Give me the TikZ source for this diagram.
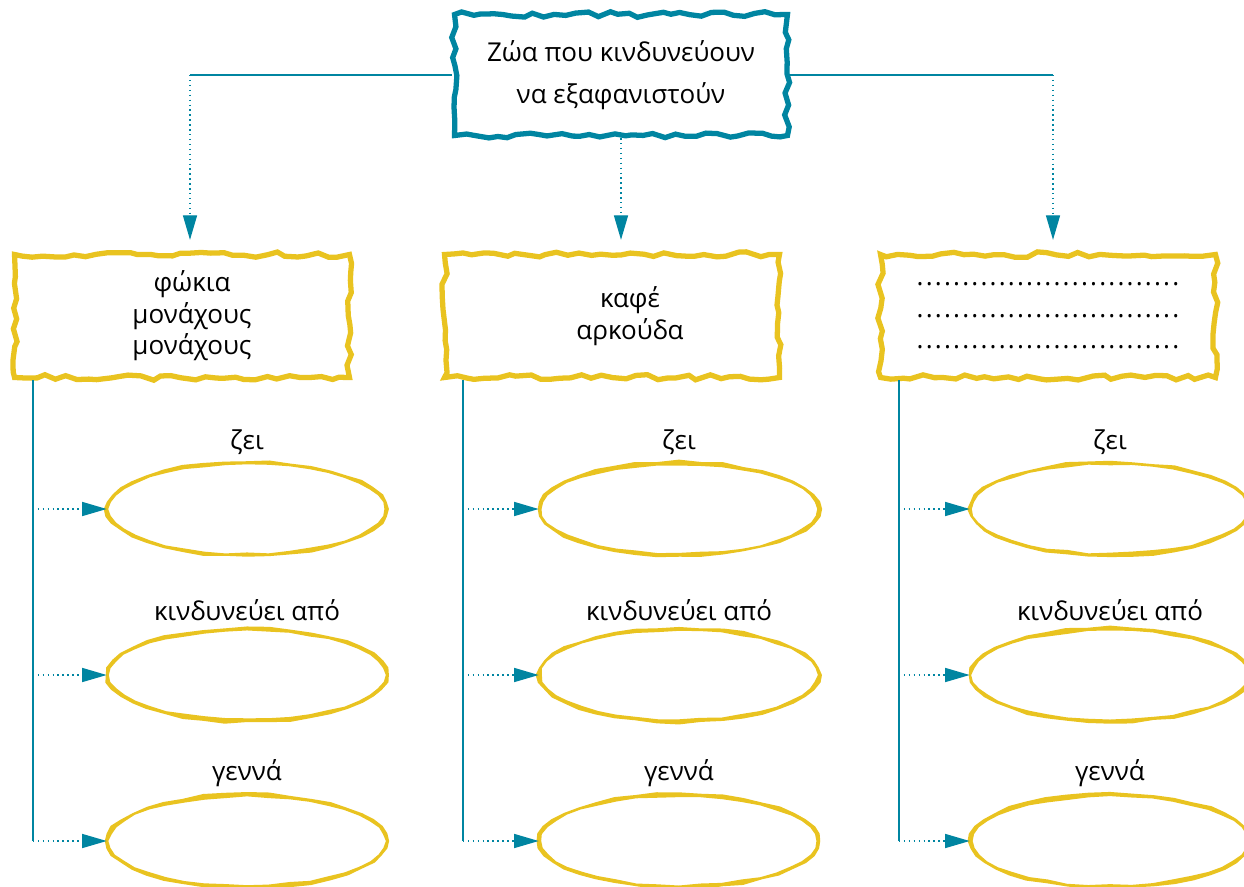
\documentclass[tikz,border=0pt]{standalone}
\usepackage{fontspec}
\setmainfont{Open Sans}
\usepackage{tikz}
\usetikzlibrary{shapes.geometric,decorations.pathmorphing,arrows.meta,positioning}
\definecolor{petrol}{RGB}{0,133,161}
\definecolor{mustard}{RGB}{233,195,32}
\newcommand{\dotrow}{\makebox[5.3cm]{\xleaders\hbox to 0.18cm{\hss.\hss}\hfill}}
\tikzset{
  ragged/.style={decorate, decoration={random steps, segment length=6pt, amplitude=1.6pt}},
  topbox/.style={draw=petrol, line width=3pt, ragged, minimum width=6.66cm, minimum height=2.42cm,
    align=center, font=\fontsize{14.8}{24}\selectfont},
  animalbox/.style={draw=mustard, line width=3pt, ragged, minimum width=6.7cm, minimum height=2.46cm,
    align=center, font=\fontsize{14.8}{18}\selectfont},
  oval/.style={ellipse, minimum width=5.6cm, minimum height=1.84cm},
  tag/.style={font=\fontsize{14.8}{18}\selectfont, inner sep=1pt},
  link/.style={petrol, line width=0.8pt},
  dots/.style={petrol, dotted, line width=0.8pt, -{Triangle[length=14pt,width=8pt]}},
}
\begin{document}
\begin{tikzpicture}[x=0.02cm, y=-0.02cm]
	\useasboundingbox (0,0) rectangle (1244,886);
	% Ô trên cùng
	\node[topbox] (top) at (621,75) {Ζώα που κινδυνεύουν\\να εξαφανιστούν};
	% Ba ô loài
	\node[animalbox] (b1) at (182,316) {\hspace*{0.4cm}φώκια\\\hspace*{0.4cm}μονάχους\\\hspace*{0.4cm}μονάχους};
	\node[animalbox] (b2) at (612,316) {\hspace*{0.72cm}καφέ\\\hspace*{0.72cm}αρκούδα};
	\node[animalbox] (b3) at (1048,316) {\dotrow\\\dotrow\\\dotrow};
	% Nhánh từ ô trên
	\coordinate (j1) at (190,75);
	\coordinate (j3) at (1053,75);
	\draw[link] (top.west) -- (j1);
	\draw[link] (top.east) -- (j3);
	\draw[dots, shorten >=0.24cm] (j1) -- (j1 |- b1.north);
	\draw[dots, shorten >=0.24cm] (top.south) -- (top.south |- b2.north);
	\draw[dots, shorten >=0.24cm] (j3) -- (j3 |- b3.north);
	% Các hình elip
	\foreach \c/\x in {1/247,2/679,3/1110}{
		\coordinate (v\c) at ([xshift=0.42cm]b\c.south west);
		\foreach \r/\y/\t in {1/509/ζει, 2/675/κινδυνεύει από, 3/841/γεννά}{
			\node[oval] (e\c\r) at (\x,\y) {};
			\fill[mustard, even odd rule, shift={(e\c\r.center)}]
				plot[samples=40, domain=0:351, variable=\a] ({(141+2.5*rnd)*cos(\a)}, {(47+2.5*rnd)*sin(\a)}) -- cycle
				plot[samples=40, domain=0:351, variable=\a] ({(139-2*rnd)*cos(\a)}, {(45-2*rnd)*sin(\a)}) -- cycle;
			\node[tag, above=0.12cm of e\c\r] (t\c\r) {\t};
			\draw[dots] (v\c |- e\c\r) -- (e\c\r.west);
		}
		\draw[link] (v\c) -- (v\c |- e\c3);
	}
\end{tikzpicture}
\end{document}
